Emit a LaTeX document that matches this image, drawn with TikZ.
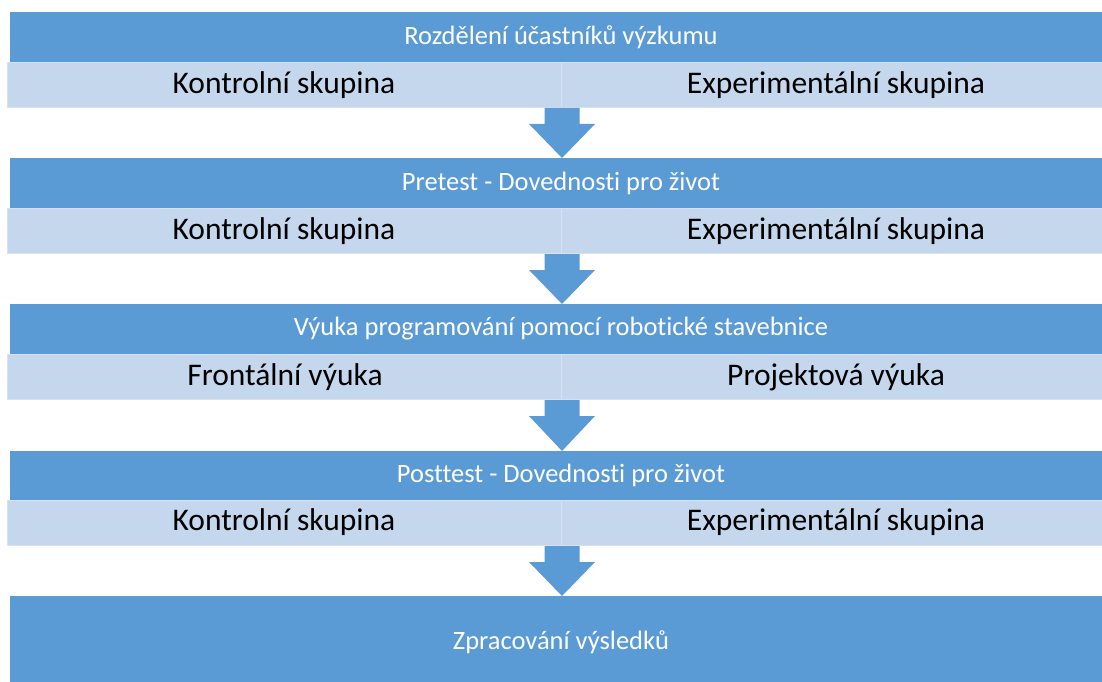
\documentclass[tikz,border=0pt]{standalone}
\usepackage{fontspec}
\setmainfont[RawFeature={-liga;-clig}]{Carlito}
\usetikzlibrary{calc}
\definecolor{darkband}{HTML}{5B9BD5}
\definecolor{lightband}{HTML}{C5D7ED}
\definecolor{cellline}{HTML}{D6E2F1}
\tikzset{
  header/.style={fill=darkband, draw=none, inner sep=0pt, anchor=north west,
    minimum width=1101bp, minimum height=50bp, text=white,
    font=\fontsize{26.5bp}{30bp}\selectfont},
  cell/.style={fill=lightband, draw=cellline, line width=1bp, inner sep=0pt, anchor=north west,
    minimum height=45bp, text=black, font=\fontsize{31.5bp}{36bp}\selectfont},
  leftcell/.style={cell, minimum width=554bp},
  rightcell/.style={cell, minimum width=550bp},
  arr/.style={fill=darkband, draw=none},
  lbl/.style={inner sep=0pt, anchor=center}
}
\newcommand\flowarrow[2]{%
  \path (#1.south east) coordinate (a0) (#2.north -| #1.south east) coordinate (a1);
  \fill[arr] ($(a0)+(-17.5,0)$) -- ($(a0)+(17.5,0)$) -- ($(a0)+(17.5,16)$) -- ($(a0)+(33,16)$)
    -- (a1) -- ($(a0)+(-33,16)$) -- ($(a0)+(-17.5,16)$) -- cycle;}
\begin{document}
\begin{tikzpicture}[x=1bp, y=-1bp]
\useasboundingbox (0,0) rectangle (1102,682);
\clip (0,0) rectangle (1102,682);
% band 1
\node[header] (h1) at (10,12) {};
\node[text=white, font=\fontsize{26.5bp}{30bp}\selectfont, lbl] (h1t) at (561,37) {Rozdělení účastníků výzkumu};
\node[leftcell] (c1l) at (7,62) {};
\node[rightcell] (c1r) at (561,62) {};
\node[lbl, font=\fontsize{31.5bp}{36bp}\selectfont] (c1lt) at (284,85) {Kontrolní skupina};
\node[lbl, font=\fontsize{31.5bp}{36bp}\selectfont] (c1rt) at (836,85) {Experimentální skupina};
% band 2
\node[header] (h2) at (10,158) {};
\node[text=white, font=\fontsize{26.5bp}{30bp}\selectfont, lbl] (h2t) at (561,183) {Pretest - Dovednosti pro život};
\node[leftcell] (c2l) at (7,208) {};
\node[rightcell] (c2r) at (561,208) {};
\node[lbl, font=\fontsize{31.5bp}{36bp}\selectfont] (c2lt) at (284,231) {Kontrolní skupina};
\node[lbl, font=\fontsize{31.5bp}{36bp}\selectfont] (c2rt) at (836,231) {Experimentální skupina};
% band 3
\node[header] (h3) at (10,304) {};
\node[text=white, font=\fontsize{26.5bp}{30bp}\selectfont, lbl] (h3t) at (561,329) {Výuka programování pomocí robotické stavebnice};
\node[leftcell] (c3l) at (7,354) {};
\node[rightcell] (c3r) at (561,354) {};
\node[lbl, font=\fontsize{31.5bp}{36bp}\selectfont] (c3lt) at (285,377) {Frontální výuka};
\node[lbl, font=\fontsize{31.5bp}{36bp}\selectfont] (c3rt) at (836,377) {Projektová výuka};
% band 4
\node[header] (h4) at (10,451) {};
\node[text=white, font=\fontsize{26.5bp}{30bp}\selectfont, lbl] (h4t) at (561,475) {Posttest - Dovednosti pro život};
\node[leftcell] (c4l) at (7,500) {};
\node[rightcell] (c4r) at (561,500) {};
\node[lbl, font=\fontsize{31.5bp}{36bp}\selectfont] (c4lt) at (284,522) {Kontrolní skupina};
\node[lbl, font=\fontsize{31.5bp}{36bp}\selectfont] (c4rt) at (836,522) {Experimentální skupina};
% final
\node[header, minimum height=95bp] (fin) at (10,596) {};
\node[text=white, font=\fontsize{26.5bp}{30bp}\selectfont, lbl] (fint) at (561,642) {Zpracování výsledků};
% arrows
\flowarrow{c1l}{h2}
\flowarrow{c2l}{h3}
\flowarrow{c3l}{h4}
\flowarrow{c4l}{fin}
\end{tikzpicture}
\end{document}
